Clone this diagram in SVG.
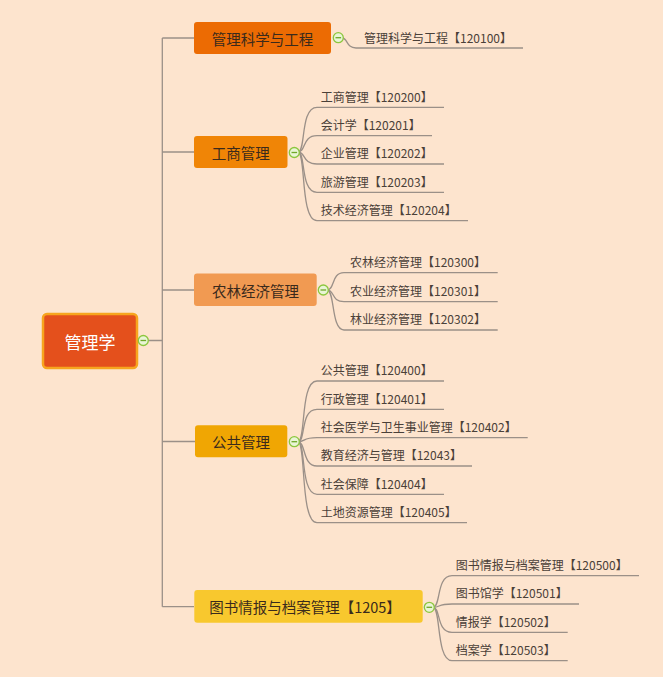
<svg xmlns="http://www.w3.org/2000/svg" width="663" height="677" viewBox="0 0 663 677">
<defs>
<style>
.bg{fill:#FDE4CE}
.conn{fill:none;stroke:#9B9088;stroke-width:1.3}
.leafline{fill:none;stroke:#9B9088;stroke-width:1.3}
.btxt{font-family:"Noto Sans CJK SC","Noto Sans",sans-serif;font-size:14.5px;fill:#3A2A1C;dominant-baseline:central;text-anchor:middle}
.ltxt{font-family:"Noto Sans CJK SC","Noto Sans",sans-serif;font-size:12px;fill:#4A4038}
.rtxt{font-family:"Noto Sans CJK SC","Noto Sans",sans-serif;font-size:17px;fill:#FFFFFF;dominant-baseline:central;text-anchor:middle}
</style>
<g id="tog">
<circle r="5" fill="#E9F5D6" stroke="#8CC63E" stroke-width="1.3"/>
<line x1="-2.8" y1="0" x2="2.8" y2="0" stroke="#6FA82A" stroke-width="1.3"/>
</g>
</defs>
<rect class="bg" x="0" y="0" width="663" height="677"/>

<g id="connectors">
<path class="conn" d="M148 340.5 H162.3 M162.3 38 V606.7 M162.3 38 H194 M162.3 152 H194 M162.3 290 H194 M162.3 441.5 H195 M162.3 606.7 H194"/>
<!-- leaves branch 1 -->
<path class="leafline" d="M342 38 C348 38 346 48 356 48 L523 48"/>
<!-- leaves branch 2 -->
<path class="leafline" d="M298 152 C306 152 300 107.3 317 107.3 L444 107.3"/>
<path class="leafline" d="M298 152 C306 152 302 135.7 317 135.7 L432 135.7"/>
<path class="leafline" d="M298 152 C306 152 302 164 317 164 L444 164"/>
<path class="leafline" d="M298 152 C306 152 300 192.3 317 192.3 L444 192.3"/>
<path class="leafline" d="M298 152 C306 152 300 220.7 317 220.7 L468 220.7"/>
<!-- leaves branch 3 -->
<path class="leafline" d="M327 290 C335 290 331 272.7 344 272.7 L497.7 272.7"/>
<path class="leafline" d="M327 290 C335 290 331 301.7 344 301.7 L497.7 301.7"/>
<path class="leafline" d="M327 290 C335 290 331 330 344 330 L497.7 330"/>
<!-- leaves branch 4 -->
<path class="leafline" d="M298 441.7 C306 441.7 300 381 317 381 L444 381"/>
<path class="leafline" d="M298 441.7 C306 441.7 300 409.3 317 409.3 L444 409.3"/>
<path class="leafline" d="M298 441.7 C306 441.7 302 437.7 317 437.7 L527.7 437.7"/>
<path class="leafline" d="M298 441.7 C306 441.7 302 466 317 466 L472 466"/>
<path class="leafline" d="M298 441.7 C306 441.7 300 494.3 317 494.3 L444 494.3"/>
<path class="leafline" d="M298 441.7 C306 441.7 300 522.7 317 522.7 L467 522.7"/>
<!-- leaves branch 5 -->
<path class="leafline" d="M433 607.3 C441 607.3 436 575.7 452 575.7 L639 575.7"/>
<path class="leafline" d="M433 607.3 C441 607.3 437 604 452 604 L579 604"/>
<path class="leafline" d="M433 607.3 C441 607.3 436 632.3 452 632.3 L567.7 632.3"/>
<path class="leafline" d="M433 607.3 C441 607.3 436 660.7 452 660.7 L567.7 660.7"/>
</g>

<g id="root">
<rect x="43" y="314" width="94" height="54" rx="4" fill="#E4501C" stroke="#F7A51E" stroke-width="2.5"/>
<text class="rtxt" x="90" y="341">管理学</text>
<use href="#tog" x="143.3" y="340.5"/>
</g>

<g id="b1">
<rect x="194" y="22" width="137" height="32" rx="3" fill="#EC6B03"/>
<text class="btxt" x="262.5" y="38">管理科学与工程</text>
<use href="#tog" x="338.3" y="37.7"/>
</g>
<g id="b1-leaves">
<text class="ltxt" x="364" y="43">管理科学与工程【120100】</text>
</g>

<g id="b2">
<rect x="194" y="136" width="93.5" height="32" rx="3" fill="#F08506"/>
<text class="btxt" x="240.7" y="152">工商管理</text>
<use href="#tog" x="294.3" y="152.5"/>
</g>
<g id="b2-leaves">
<text class="ltxt" x="320.7" y="101.5">工商管理【120200】</text>
<text class="ltxt" x="320.7" y="130">会计学【120201】</text>
<text class="ltxt" x="320.7" y="158.3">企业管理【120202】</text>
<text class="ltxt" x="320.7" y="186.6">旅游管理【120203】</text>
<text class="ltxt" x="320.7" y="215">技术经济管理【120204】</text>
</g>

<g id="b3">
<rect x="194" y="273.5" width="122.7" height="32.5" rx="3" fill="#F19A52"/>
<text class="btxt" x="255.4" y="290">农林经济管理</text>
<use href="#tog" x="323.3" y="290"/>
</g>
<g id="b3-leaves">
<text class="ltxt" x="350" y="267">农林经济管理【120300】</text>
<text class="ltxt" x="350" y="296">农业经济管理【120301】</text>
<text class="ltxt" x="350" y="324.3">林业经济管理【120302】</text>
</g>

<g id="b4">
<rect x="195" y="425.3" width="92.3" height="32" rx="3" fill="#F0A603"/>
<text class="btxt" x="241" y="441.5">公共管理</text>
<use href="#tog" x="294.3" y="441.7"/>
</g>
<g id="b4-leaves">
<text class="ltxt" x="320.7" y="375.3">公共管理【120400】</text>
<text class="ltxt" x="320.7" y="403.6">行政管理【120401】</text>
<text class="ltxt" x="320.7" y="432">社会医学与卫生事业管理【120402】</text>
<text class="ltxt" x="320.7" y="460.3">教育经济与管理【12043】</text>
<text class="ltxt" x="320.7" y="488.6">社会保障【120404】</text>
<text class="ltxt" x="320.7" y="517">土地资源管理【120405】</text>
</g>

<g id="b5">
<rect x="194.3" y="590" width="228.4" height="32.7" rx="3" fill="#F8C82E"/>
<text class="btxt" x="305" y="606.5">图书情报与档案管理【1205】</text>
<use href="#tog" x="429.3" y="607.3"/>
</g>
<g id="b5-leaves">
<text class="ltxt" x="455.7" y="570">图书情报与档案管理【120500】</text>
<text class="ltxt" x="455.7" y="598.3">图书馆学【120501】</text>
<text class="ltxt" x="455.7" y="626.6">情报学【120502】</text>
<text class="ltxt" x="455.7" y="655">档案学【120503】</text>
</g>
</svg>
